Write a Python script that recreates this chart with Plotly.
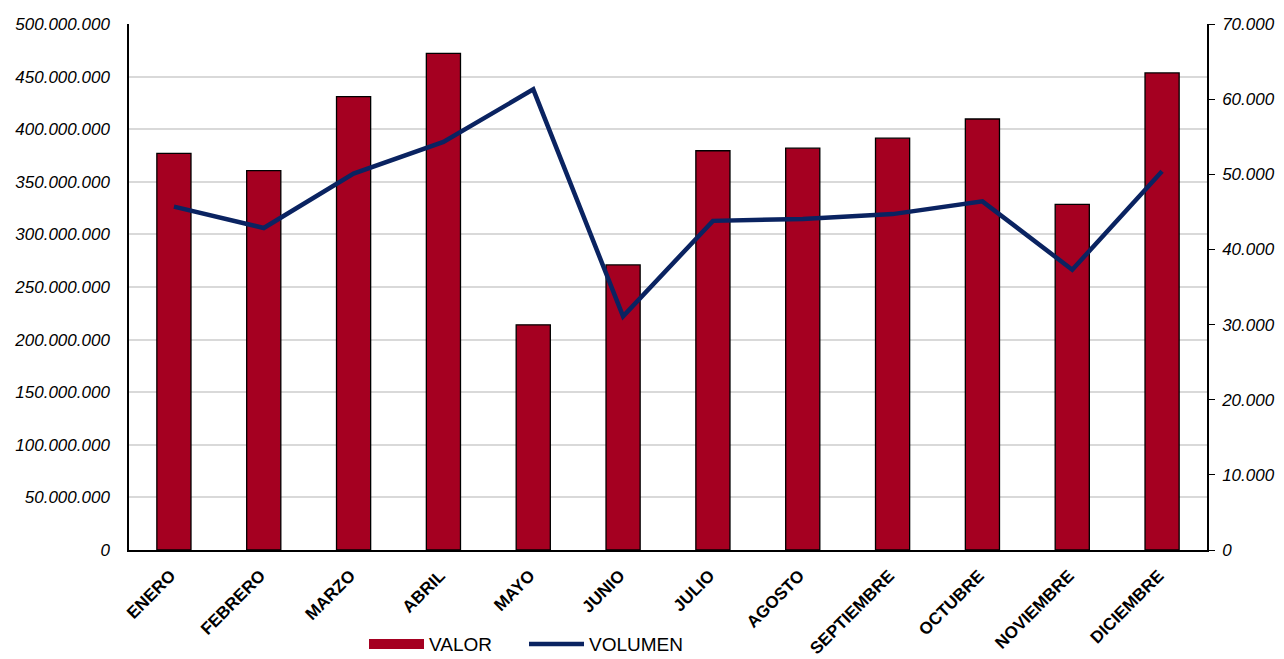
import plotly.graph_objects as go

meses = ["ENERO", "FEBRERO", "MARZO", "ABRIL", "MAYO", "JUNIO", "JULIO",
         "AGOSTO", "SEPTIEMBRE", "OCTUBRE", "NOVIEMBRE", "DICIEMBRE"]
valor = [377e6, 360.6e6, 431e6, 472e6, 214e6, 271e6, 379.5e6, 382e6,
         391.5e6, 409.7e6, 328.5e6, 453.5e6]
volumen = [45700, 42850, 50100, 54300, 61300, 31100, 43800, 44050,
           44700, 46400, 37300, 50400]

FONT = "Liberation Sans, Arial, sans-serif"
BAR_COLOR = "#a50021"
LINE_COLOR = "#0a2361"

fig = go.Figure()
fig.add_trace(go.Bar(
    x=meses, y=valor, name="VALOR", showlegend=False,
    marker=dict(color=BAR_COLOR, line=dict(color="#000000", width=1.3)),
    width=0.38,
))
# legend proxy giving a wide rectangular swatch for the bars
fig.add_trace(go.Scatter(
    x=[None], y=[None], name="VALOR", mode="lines",
    line=dict(color=BAR_COLOR, width=14), legendrank=1,
))
fig.add_trace(go.Scatter(
    x=meses, y=volumen, name="VOLUMEN", yaxis="y2", mode="lines",
    line=dict(color=LINE_COLOR, width=4.5), legendrank=2,
))

fig.update_layout(
    width=1276, height=651,
    margin=dict(l=121, r=77, t=16, b=109),
    paper_bgcolor="white", plot_bgcolor="white",
    separators=",.",
    font=dict(family=FONT, color="#000000"),
    showlegend=True,
    legend=dict(orientation="h", xref="container", yref="container",
                x=0.279, xanchor="left", y=0.023, yanchor="middle",
                font=dict(size=19, color="#000000", family=FONT), itemwidth=55,
                entrywidth=90, entrywidthmode="pixels",
                traceorder="normal"),
    xaxis=dict(
        tickangle=-45, automargin=False,
        tickmode="array", tickvals=meses,
        ticktext=[m + "\u00a0" for m in meses],
        tickfont=dict(size=17, family=FONT, weight="bold"),
        showline=True, linecolor="#000000", linewidth=1.5,
        ticks="", showgrid=False, ticklabelstandoff=4,
    ),
    yaxis=dict(
        range=[0, 500e6], dtick=50e6, tickformat=",.0f", automargin=False,
        tickfont=dict(size=17, style="italic", family=FONT),
        showgrid=True, gridcolor="#d9d9d9", gridwidth=1.5,
        showline=True, linecolor="#000000", linewidth=1.5,
        ticks="", zeroline=False, ticklabelstandoff=14,
    ),
    yaxis2=dict(
        range=[0, 70000], dtick=10000, tickformat=",.0f", automargin=False,
        overlaying="y", side="right",
        tickfont=dict(size=17, style="italic", family=FONT),
        showgrid=False, showline=True, linecolor="#000000", linewidth=1.5,
        ticks="outside", ticklen=6, tickcolor="#000000", zeroline=False,
        ticklabelstandoff=4,
    ),
)

fig.write_html("out.html")
